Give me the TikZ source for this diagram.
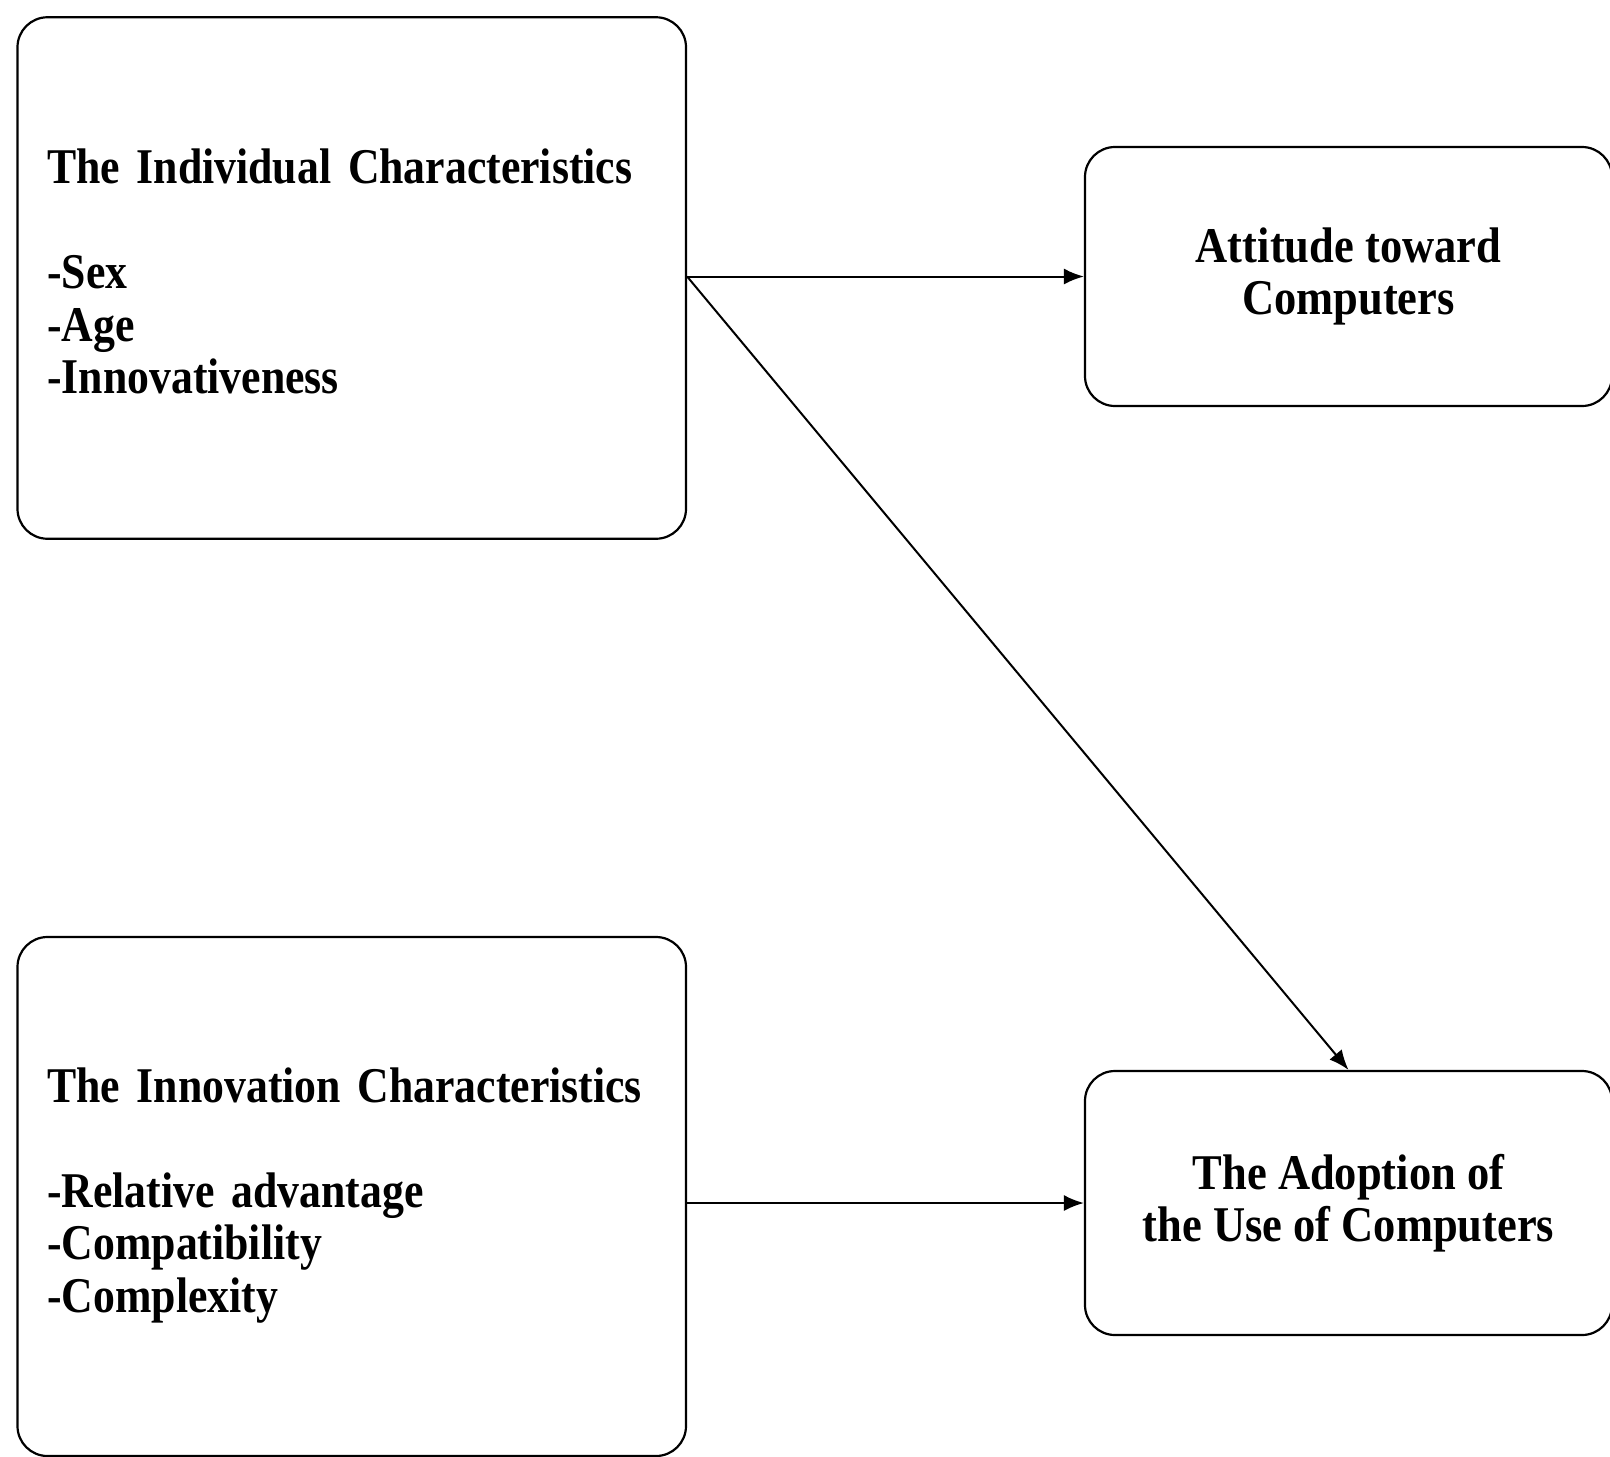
\documentclass[tikz,border=0pt]{standalone}
\usepackage{fontspec}
\setmainfont{Liberation Serif}[FakeStretch=0.89]
\newfontfamily\leftboxfont{Liberation Serif}[FakeStretch=0.875,WordSpace=0.7]
\usetikzlibrary{arrows.meta}
\begin{document}
\begin{tikzpicture}[x=1pt,y=-1pt,
  boxstyle/.style={draw=black, line width=2.2pt, rounded corners=30pt, inner sep=0pt,
    font=\fontsize{50}{52.5}\selectfont\bfseries},
  leftbox/.style={boxstyle, font=\leftboxfont\fontsize{50}{52.5}\selectfont\bfseries,
    minimum width=668.5pt, align=left, text width=609pt},
  rightbox/.style={boxstyle, minimum width=527pt, align=center},
  arr/.style={line width=2pt, -{Latex[length=20pt,width=16pt]}}]
\useasboundingbox (0,0) rectangle (1610,1457);
\node[leftbox, minimum height=521.5pt] (ind) at (351.75,278)
  {\begin{tabular}{@{}l@{}}The Individual Characteristics\\ \\-Sex\\-Age\\-Innovativeness\end{tabular}};
\node[rightbox, minimum height=259pt] (att) at (1348.5,276.5)
  {Attitude toward\\Computers};
\node[leftbox, minimum height=519pt] (inn) at (351.75,1196.5)
  {\begin{tabular}{@{}l@{}}The Innovation Characteristics\\ \\-Relative advantage\\-Compatibility\\-Complexity\end{tabular}};
\node[rightbox, minimum height=264pt] (ado) at (1348.5,1203)
  {The Adoption of\\the Use of Computers};
\coordinate (s1) at (ind.east |- att.west);
\coordinate (s3) at (inn.east |- ado.west);
\draw[arr] (s1) -- (att.west);
\draw[arr] (s1) -- (ado.north);
\draw[arr] (s3) -- (ado.west);
\end{tikzpicture}
\end{document}
